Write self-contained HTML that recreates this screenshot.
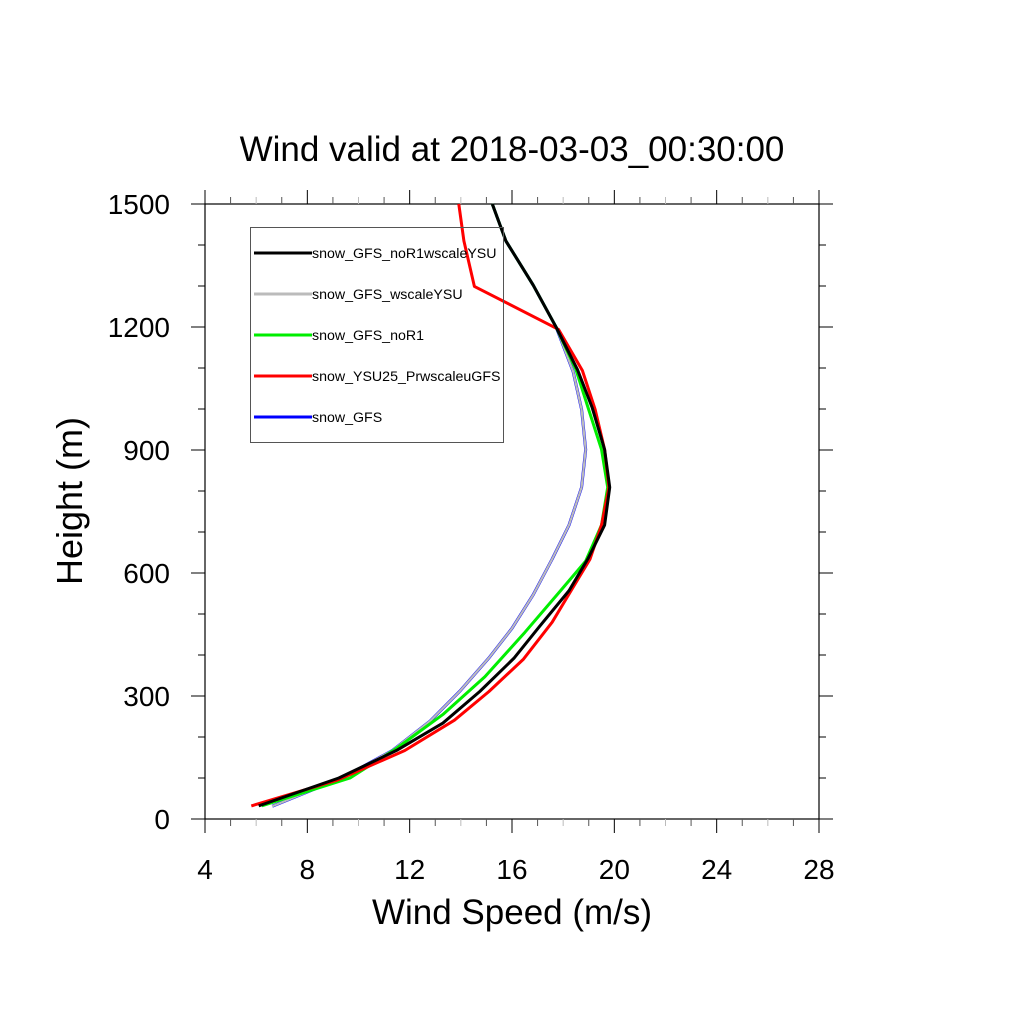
<!DOCTYPE html>
<html><head><meta charset="utf-8"><style>
html,body{margin:0;padding:0;background:#fff;}
svg{display:block;font-family:"Liberation Sans",sans-serif;}
</style></head><body>
<svg id="chart" width="1024" height="1024" viewBox="0 0 1024 1024" xmlns="http://www.w3.org/2000/svg">
<rect width="1024" height="1024" fill="#fff"/>
<text x="512" y="161" font-size="35" text-anchor="middle">Wind valid at 2018-03-03_00:30:00</text>
<text x="512" y="924" font-size="35" text-anchor="middle">Wind Speed (m/s)</text>
<text x="0" y="0" font-size="36" text-anchor="middle" transform="translate(82,501) rotate(-90)">Height (m)</text>
<g id="axes"></g>
<g id="series"></g>
<g id="legend"></g>
</svg>
<script>
const xTicks=[4,8,12,16,20,24,28];
const yTicks=[0,300,600,900,1200,1500];
const seriesNames=["snow_GFS_noR1wscaleYSU","snow_GFS_wscaleYSU","snow_GFS_noR1","snow_YSU25_PrwscaleuGFS","snow_GFS"];
const seriesColors=["#000","#bbb","#00ee00","#ff0000","#0000ff"];
const hBlack=[32,100,167,234,311,393,470,557,635,717,809,901,1004,1096,1199,1302,1410,1500];
const vBlack=[6.1,9.23,11.48,13.3,14.74,16.09,17.08,18.23,18.97,19.62,19.82,19.62,19.13,18.56,17.73,16.83,15.76,15.23];
const hGreen=[32,100,172,255,347,455,557,629,717,809,901,1004,1096,1199,1302,1410,1500];
const vGreen=[6.22,9.67,11.48,13.3,14.94,16.5,17.9,18.88,19.5,19.74,19.5,18.97,18.5,17.73,16.83,15.76,15.23];
const hGray=[31,100,167,239,311,393,465,547,634,717,809,901,999,1091,1199,1302,1410,1500];
const vGray=[6.63,9.35,11.32,12.8,13.95,15.1,16.0,16.83,17.57,18.23,18.72,18.88,18.72,18.39,17.73,16.83,15.76,15.23];
const hRed=[32,95,167,241,311,390,480,557,634,717,809,901,999,1094,1194,1299,1410,1500];
const vRed=[5.81,9.18,11.81,13.75,15.1,16.45,17.57,18.31,19.05,19.5,19.79,19.62,19.25,18.75,17.82,14.53,14.12,13.92];
const NS="http://www.w3.org/2000/svg";
const X0=205,X1=819,Y0=819,Y1=204;
const xs=v=>X0+(v-4)/24*(X1-X0);
const ys=h=>Y0-h/1500*(Y0-Y1);
function mk(tag,attrs,parent){const e=document.createElementNS(NS,tag);for(const k in attrs)e.setAttribute(k,attrs[k]);parent.appendChild(e);return e;}
const axes=document.getElementById('axes');
const frame=mk('rect',{x:X0,y:Y1,width:X1-X0,height:Y0-Y1,fill:'none',stroke:'#000','stroke-width':1.2},axes);


for(let v=4;v<=28;v++){
  const major=(v%4===0);const L=major?14:7;const col=major?'#000':((v%2===0)?'#bbb':'#555');
  const t1=mk('line',{x1:xs(v),x2:xs(v),y1:Y0,y2:Y0+L,stroke:col,'stroke-width':1},axes);
  
  
  const t2=mk('line',{x1:xs(v),x2:xs(v),y1:Y1,y2:Y1-L,stroke:col,'stroke-width':1},axes);
  
  
}
for(let h=0;h<=1500;h+=100){
  const major=(h%300===0);const L=major?14:7;
  const t1=mk('line',{x1:X0,x2:X0-L,y1:ys(h),y2:ys(h),stroke:'#000','stroke-width':1},axes);
  
  
  const t2=mk('line',{x1:X1,x2:X1+L,y1:ys(h),y2:ys(h),stroke:'#000','stroke-width':1},axes);
  
  
}
xTicks.forEach(v=>{const t=mk('text',{x:xs(v),y:879,'font-size':28,'text-anchor':'middle'},axes);t.textContent=v;
  
  });
yTicks.forEach(h=>{const t=mk('text',{x:170,y:ys(h)+10,'font-size':28,'text-anchor':'end'},axes);t.textContent=h;
  
  });
const ser=document.getElementById('series');
function line(vals,hs,color,name,w){
  const p=mk('polyline',{points:vals.map((v,i)=>xs(v)+','+ys(hs[i])).join(' '),fill:'none',stroke:color,'stroke-width':w,'stroke-linejoin':'round'},ser);
  
  
}
line(vGray,hGray,'#0000ff','line-snow-gfs',3);
line(vGray,hGray,'#bbb','line-snow-gfs-wscaleysu',2.2);
line(vGreen,hGreen,'#00ee00','line-snow-gfs-nor1',3);
line(vRed,hRed,'#ff0000','line-snow-ysu25-prwscaleugfs',3);
line(vBlack,hBlack,'#000','line-snow-gfs-nor1wscaleysu',3);
const leg=document.getElementById('legend');
const box=mk('rect',{x:250.5,y:227.5,width:253,height:215,fill:'none',stroke:'#555','stroke-width':1},leg);


seriesNames.forEach((n,i)=>{
  const y=253+i*41;
  const l=mk('line',{x1:254,x2:312,y1:y,y2:y,stroke:seriesColors[i],'stroke-width':3},leg);
  
  
  const t=mk('text',{x:312,y:y+5,'font-size':14.2},leg);t.textContent=n;
  
  
});
</script>
</body></html>
